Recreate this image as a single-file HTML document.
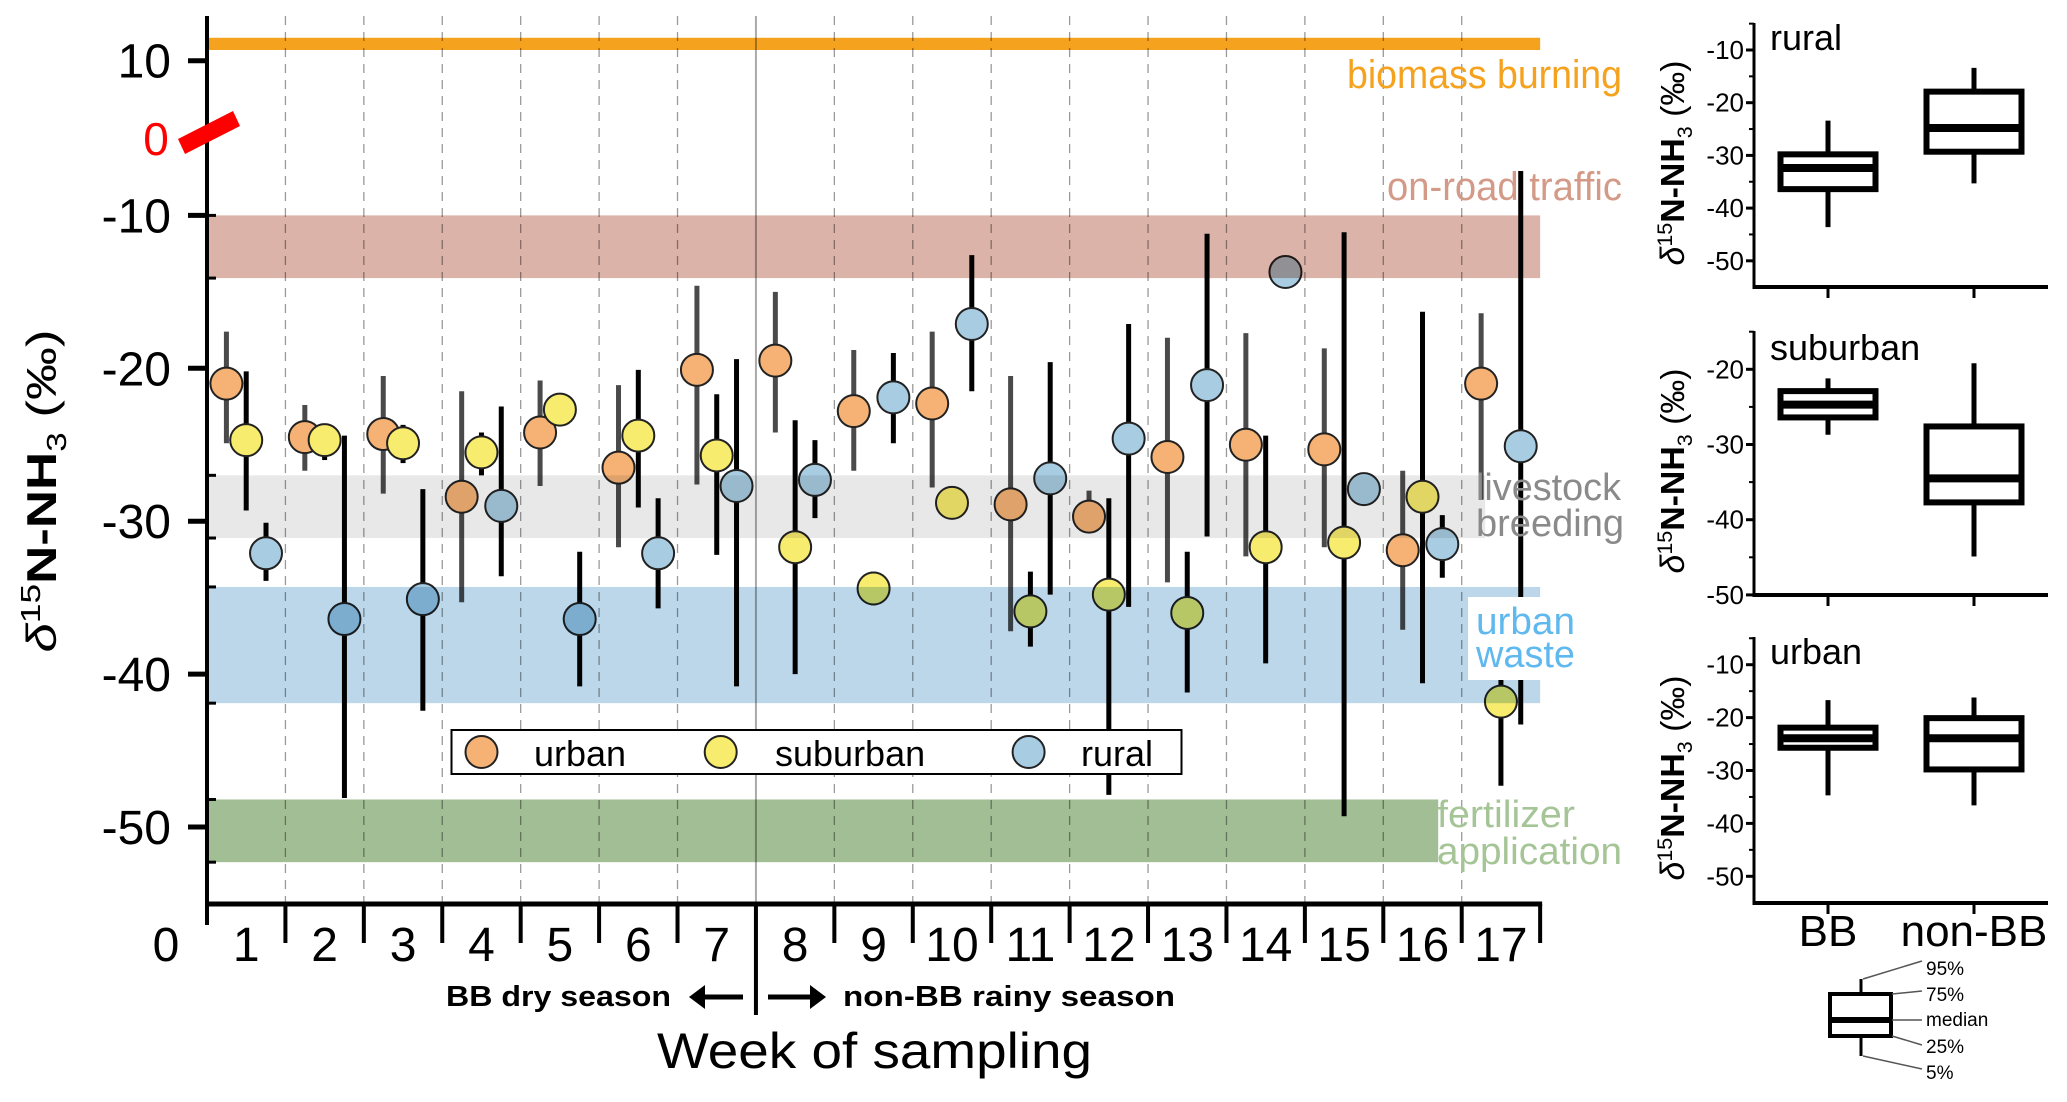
<!DOCTYPE html>
<html><head><meta charset="utf-8">
<style>
html,body{margin:0;padding:0;background:#fff;}
svg{display:block;font-family:"Liberation Sans","DejaVu Sans",sans-serif;}
.nar{font-family:"Liberation Sans Narrow","Liberation Sans",sans-serif;}
</style></head>
<body>
<svg id="chart" width="2067" height="1102" viewBox="0 0 2067 1102" xmlns="http://www.w3.org/2000/svg">
<g id="grid"></g>
<g id="pts"></g>
<g id="bands" style="mix-blend-mode:multiply"></g>
<g id="axes"></g>
<g id="panels"></g>

<text class="nar" x="1347" y="88" font-size="40" fill="#f5a21f" textLength="275" lengthAdjust="spacingAndGlyphs">biomass burning</text>
<text class="nar" x="1387" y="200" font-size="40" fill="#d49a88" textLength="235" lengthAdjust="spacingAndGlyphs">on-road traffic</text>
<text class="nar" x="1476" y="500" font-size="38" fill="#8a8a8a" textLength="145" lengthAdjust="spacingAndGlyphs">livestock</text>
<text class="nar" x="1476" y="536" font-size="38" fill="#8a8a8a" textLength="148" lengthAdjust="spacingAndGlyphs">breeding</text>
<rect x="1468" y="597" width="106" height="83" fill="#fff"/>
<text class="nar" x="1476" y="634" font-size="38" fill="#5fb8ee" textLength="99" lengthAdjust="spacingAndGlyphs">urban</text>
<text class="nar" x="1476" y="667" font-size="38" fill="#5fb8ee" textLength="99" lengthAdjust="spacingAndGlyphs">waste</text>
<text class="nar" x="1437" y="827" font-size="38" fill="#a6c597" textLength="138" lengthAdjust="spacingAndGlyphs">fertilizer</text>
<text class="nar" x="1437" y="864" font-size="38" fill="#a6c597" textLength="185" lengthAdjust="spacingAndGlyphs">application</text>

<text x="156" y="155" font-size="46" fill="#f00" text-anchor="middle">0</text>
<polygon points="178,139 185,154 240,126 233,111" fill="#f00"/>

<text transform="translate(56,491) rotate(-90)" font-size="42" text-anchor="middle" textLength="323" lengthAdjust="spacingAndGlyphs"><tspan font-style="italic">δ</tspan><tspan dy="-16" font-size="28">15</tspan><tspan dy="16" font-weight="bold">N-NH</tspan><tspan dy="10" font-size="28">3</tspan><tspan dy="-10"> (‰)</tspan></text>

<text x="446" y="1006" font-size="29" font-weight="bold" textLength="225" lengthAdjust="spacingAndGlyphs">BB dry season</text>
<g><line x1="695" y1="997" x2="743" y2="997" stroke="#000" stroke-width="5"/><polygon points="689,997 705,985 705,1009" fill="#000"/></g>
<g><line x1="768" y1="997" x2="818" y2="997" stroke="#000" stroke-width="5"/><polygon points="826,997 810,985 810,1009" fill="#000"/></g>
<text x="843" y="1006" font-size="29" font-weight="bold" textLength="332" lengthAdjust="spacingAndGlyphs">non-BB rainy season</text>
<text x="657" y="1068" font-size="50" textLength="435" lengthAdjust="spacingAndGlyphs">Week of sampling</text>

<g>
<rect x="451.5" y="730" width="730" height="44" fill="#fff" stroke="#000" stroke-width="2"/>
<circle cx="481.5" cy="752" r="16" fill="#f5b274" stroke="#222" stroke-width="2"/>
<text x="534" y="766" font-size="36">urban</text>
<circle cx="720.7" cy="752" r="16" fill="#f8ec6e" stroke="#222" stroke-width="2"/>
<text x="775" y="766" font-size="36">suburban</text>
<circle cx="1028.6" cy="752" r="16" fill="#a8cde2" stroke="#222" stroke-width="2"/>
<text x="1081" y="766" font-size="36">rural</text>
</g>

<g stroke="#000" fill="none">
<line x1="1861" y1="979" x2="1861" y2="1056" stroke-width="3"/>
<rect x="1830" y="994" width="61" height="42" fill="#fff" stroke-width="4"/>
<line x1="1830" y1="1020" x2="1891" y2="1020" stroke-width="6"/>
<g stroke="#555" stroke-width="1.5">
<line x1="1863" y1="979" x2="1922" y2="961"/><line x1="1892" y1="994" x2="1922" y2="991"/><line x1="1892" y1="1020" x2="1922" y2="1020"/><line x1="1892" y1="1036" x2="1922" y2="1045"/><line x1="1863" y1="1056" x2="1922" y2="1069"/>
</g>
</g>
<g font-size="19">
<text x="1926" y="975">95%</text><text x="1926" y="1001">75%</text><text x="1926" y="1026">median</text><text x="1926" y="1053">25%</text><text x="1926" y="1079">5%</text>
</g>

<script>
const weeks = [1,2,3,4,5,6,7,8,9,10,11,12,13,14,15,16,17];
const urbanMean = [-21.0,-24.5,-24.3,-28.4,-24.2,-26.5,-20.1,-19.5,-22.8,-22.3,-28.9,-29.7,-25.8,-25.0,-25.3,-31.9,-21.0];
const urbanHigh = [-17.6,-22.4,-20.5,-21.5,-20.8,-21.1,-14.6,-15.0,-18.8,-17.6,-20.5,-28.0,-18.0,-17.7,-18.7,-26.7,-16.4];
const urbanLow  = [-24.9,-26.7,-28.2,-35.3,-27.7,-31.7,-27.6,-24.2,-26.7,-27.8,-37.2,-30.6,-34.0,-32.3,-31.7,-37.1,-28.6];
const suburbanMean = [-24.7,-24.7,-24.9,-25.5,-22.7,-24.4,-25.7,-31.7,-34.4,-28.8,-35.9,-34.8,-36.0,-31.7,-31.4,-28.4,-41.8];
const suburbanHigh = [-20.2,-24.2,-23.7,-24.2,-21.7,-20.1,-21.7,-23.4,-33.3,-27.8,-33.3,-28.5,-32.0,-24.4,-11.1,-16.3,-38.2];
const suburbanLow  = [-29.3,-26.0,-26.2,-27.0,-23.7,-29.1,-32.2,-40.0,-35.5,-29.8,-38.2,-47.9,-41.2,-39.3,-49.3,-40.6,-47.3];
const ruralMean = [-32.1,-36.4,-35.1,-29.0,-36.4,-32.1,-27.7,-27.3,-21.9,-17.1,-27.2,-24.6,-21.1,-13.7,-27.9,-31.5,-25.1];
const ruralHigh = [-30.1,-24.4,-27.9,-22.5,-32.0,-28.5,-19.4,-24.7,-19.0,-12.6,-19.6,-17.1,-11.2,-13.7,-27.9,-29.6,-7.1];
const ruralLow  = [-33.9,-48.1,-42.4,-33.6,-40.8,-35.7,-40.8,-29.8,-24.9,-21.5,-34.8,-35.6,-31.0,-13.7,-27.9,-33.7,-43.3];
const yTickValues = [10,-10,-20,-30,-40,-50];
const xTickLabels = ["0","1","2","3","4","5","6","7","8","9","10","11","12","13","14","15","16","17"];
const bandNames = ["biomass-burning-band","on-road-traffic-band","livestock-band","urban-waste-band","fertilizer-band"];
const bandTop = [11.5,-10,-27,-34.3,-48.2];
const bandBottom = [10.7,-14.1,-31.1,-41.9,-52.3];
const bandColor = ["#f5a21f","#dbb3a8","#e8e8e8","#bcd7ea","#a2be94"];
const bandEndWeek = [17,17,16.3,17,15.7];

const panelNames = ["rural","suburban","urban"];
const boxGroups = ["BB","non-BB"];
const boxP95 = [[-23.4,-13.4],[-21.2,-19.2],[-16.7,-16.2]];
const boxP75 = [[-29.8,-17.9],[-22.9,-27.6],[-21.9,-20.1]];
const boxMedian = [[-32.4,-24.8],[-24.7,-34.5],[-23.9,-23.9]];
const boxP25 = [[-36.4,-29.3],[-26.4,-37.7],[-25.7,-29.8]];
const boxP5 = [[-43.6,-35.3],[-28.7,-44.9],[-34.7,-36.6]];
const panelTicks = [[-10,-20,-30,-40,-50],[-20,-30,-40,-50],[-10,-20,-30,-40,-50]];

const NS = "http://www.w3.org/2000/svg";
function mk(parent, tag, attrs){ const e=document.createElementNS(NS,tag); for(const k in attrs) e.setAttribute(k,attrs[k]); parent.appendChild(e); return e; }

const X0 = 207, WEEKW = 78.42, XAXIS_Y = 904;
function xWeekEdge(i){ return X0 + i*WEEKW; }
function xWeek(w){ return X0 + (w-0.5)*WEEKW; }
function y(v){ if (v > 0) return 60.7 + (10 - v)*15.29; return 215.4 + (-10 - v)*15.29; }

const grid = document.getElementById('grid');
const pts = document.getElementById('pts');
const bands = document.getElementById('bands');
const axes = document.getElementById('axes');

for (let i=1;i<=16;i++){
  const gl = mk(grid,'line',{x1:xWeekEdge(i),x2:xWeekEdge(i),y1:16,y2:XAXIS_Y, stroke: i===7?'#aaa':'#9a9a9a','stroke-width': i===7?2:1.3,'stroke-dasharray': i===7?'none':'9 7'});
  
  
}

const series = [
  {name:'urban', mean:urbanMean, hi:urbanHigh, lo:urbanLow, off:-19.8, fill:'#f5b274', bar:'#4a4a4a'},
  {name:'suburban', mean:suburbanMean, hi:suburbanHigh, lo:suburbanLow, off:0, fill:'#f8ec6e', bar:'#000'},
  {name:'rural', mean:ruralMean, hi:ruralHigh, lo:ruralLow, off:19.8, fill:'#a8cde2', bar:'#000'}
];
series.forEach(s=>{
  weeks.forEach((w,i)=>{
    const cx = xWeek(w)+s.off;
    const bl = mk(pts,'line',{x1:cx,x2:cx,y1:y(s.hi[i]),y2:y(s.lo[i]),stroke:s.bar,'stroke-width':5});
    
    
    const c = mk(pts,'circle',{cx:cx,cy:y(s.mean[i]),r:16,fill:s.fill,stroke:'#222','stroke-width':2});
    
    
  });
});

bandNames.forEach((n,i)=>{
  const r = mk(bands,'rect',{x:X0,y:y(bandTop[i]),width:xWeekEdge(bandEndWeek[i])-X0,height:y(bandBottom[i])-y(bandTop[i]),fill:bandColor[i]});
  
  
});

mk(axes,'line',{x1:X0,x2:X0,y1:16,y2:925,stroke:'#000','stroke-width':4});
mk(axes,'line',{x1:X0-2,x2:xWeekEdge(17)+2,y1:XAXIS_Y,y2:XAXIS_Y,stroke:'#000','stroke-width':5});
for (let i=1;i<=17;i++){
  mk(axes,'line',{x1:xWeekEdge(i),x2:xWeekEdge(i),y1:XAXIS_Y,y2:i===7?1015:943,stroke:'#000','stroke-width':4});
}
xTickLabels.forEach((lab,i)=>{
  const t = mk(axes,'text',{x: i===0?166:xWeek(i), y:961,'font-size':48,'text-anchor':'middle'});
  t.textContent = lab;
  
  
});
yTickValues.forEach(v=>{
  mk(axes,'line',{x1:188,x2:X0,y1:y(v),y2:y(v),stroke:'#000','stroke-width':5});
  const t = mk(axes,'text',{x:171,y:y(v)+17,'font-size':48,'text-anchor':'end'});
  t.textContent = String(v);
  
  
});
bandTop.concat(bandBottom).forEach((v,i)=>{ if(i!==0 && i!==5) mk(axes,'line',{x1:X0,x2:X0+9,y1:y(v),y2:y(v),stroke:'#000','stroke-width':3}); });

const panels = document.getElementById('panels');
const PAX = 1754, PRIGHT = 2048, BOXX = [1828,1974], BOXW = 95;
const pGeom = [ {top:23, bottom:287, ref:-10, refY:50, k:5.27, labY:50},
                {top:331, bottom:595, ref:-20, refY:369.3, k:7.52, labY:360},
                {top:637, bottom:903, ref:-10, refY:664.7, k:5.29, labY:664} ];
function tspan(parent, txt, attrs){ const s = mk(parent,'tspan',attrs); s.textContent = txt; return s; }
panelNames.forEach((pn,p)=>{
  const g = pGeom[p];
  const py = v => g.refY + (g.ref - v)*g.k;
  const pg = mk(panels,'g',{});
  
  
  mk(pg,'line',{x1:PAX,x2:PAX,y1:g.top,y2:g.bottom+2,stroke:'#000','stroke-width':3});
  mk(pg,'line',{x1:PAX-1,x2:PRIGHT,y1:g.bottom,y2:g.bottom,stroke:'#000','stroke-width':4});
  BOXX.forEach(bx=>mk(pg,'line',{x1:bx,x2:bx,y1:g.bottom,y2:g.bottom+11,stroke:'#000','stroke-width':3}));
  panelTicks[p].forEach(v=>{
    mk(pg,'line',{x1:PAX-8,x2:PAX,y1:py(v),y2:py(v),stroke:'#000','stroke-width':3});
    mk(pg,'line',{x1:PAX-5,x2:PAX,y1:py(v+5),y2:py(v+5),stroke:'#000','stroke-width':2});
    const t = mk(pg,'text',{x:PAX-10,y:py(v)+9,'font-size':26,'text-anchor':'end'});
    t.textContent = String(v);
    
    
  });
  const lt = mk(pg,'text',{x:1770,y:g.labY,'font-size':36});
  lt.textContent = pn;
  
  
  const yt = mk(pg,'text',{transform:'translate(1684,'+((g.top+g.bottom)/2+8)+') rotate(-90)','font-size':33,'text-anchor':'middle',textLength:205,lengthAdjust:'spacingAndGlyphs'});
  tspan(yt,'δ',{'font-style':'italic'});
  tspan(yt,'15',{dy:-12,'font-size':21});
  tspan(yt,'N-NH',{dy:12,'font-weight':'bold'});
  tspan(yt,'3',{dy:8,'font-size':21});
  tspan(yt,' (‰)',{dy:-8});
  
  
  boxGroups.forEach((bg,b)=>{
    const bx = BOXX[b];
    const w = mk(pg,'line',{x1:bx,x2:bx,y1:py(boxP95[p][b]),y2:py(boxP5[p][b]),stroke:'#000','stroke-width':5});
    
    
    const r = mk(pg,'rect',{x:bx-BOXW/2,y:py(boxP75[p][b]),width:BOXW,height:py(boxP25[p][b])-py(boxP75[p][b]),fill:'#fff',stroke:'#000','stroke-width':6});
    
    
    const m = mk(pg,'line',{x1:bx-BOXW/2-2,x2:bx+BOXW/2+2,y1:py(boxMedian[p][b]),y2:py(boxMedian[p][b]),stroke:'#000','stroke-width':8});
    
    
  });
});
boxGroups.forEach((bg,b)=>{
  const t = mk(panels,'text',{x:BOXX[b],y:946,'font-size':44,'text-anchor':'middle'});
  t.textContent = bg;
  
  
});
</script>
</svg>
</body></html>
